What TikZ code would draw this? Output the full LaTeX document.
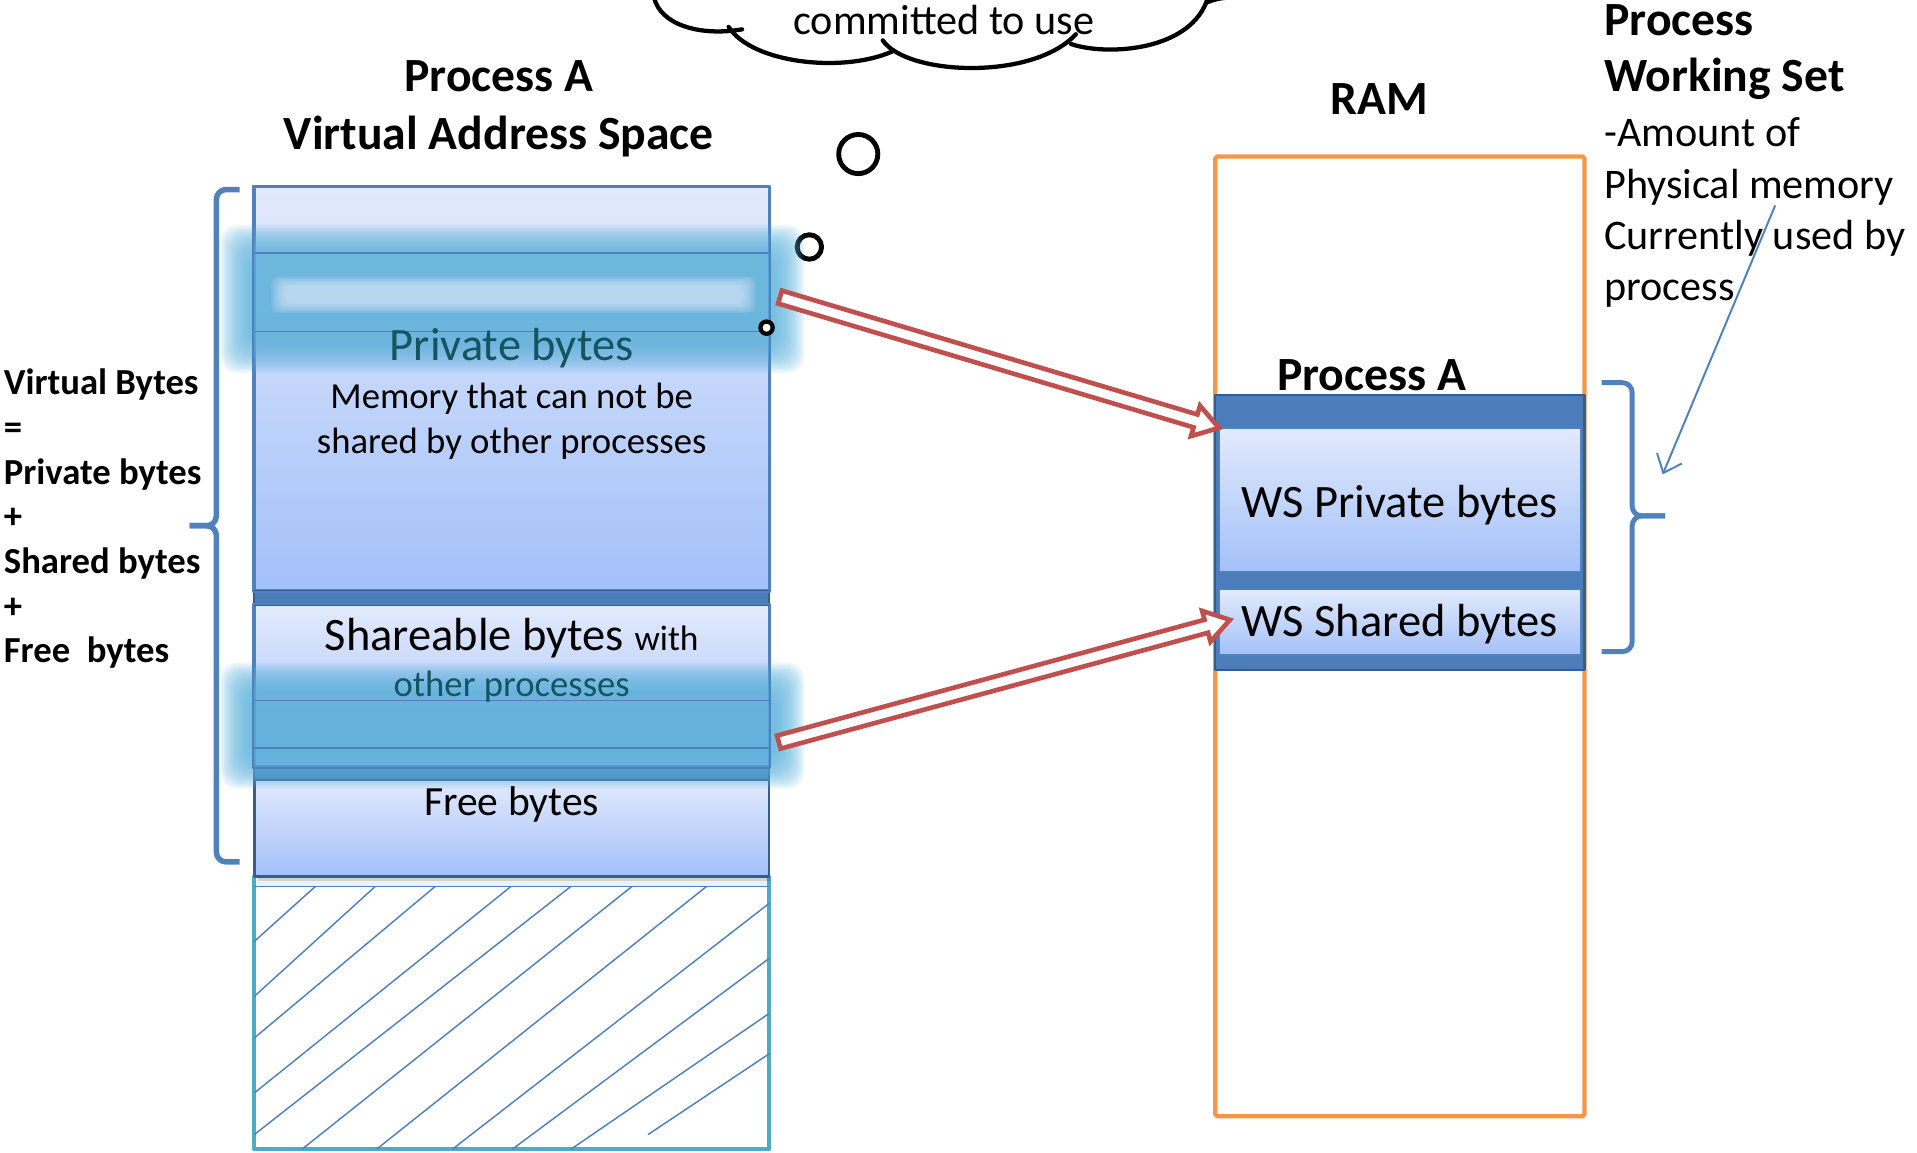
\documentclass[tikz,border=0pt]{standalone}
\usepackage{fontspec}
\setmainfont{Carlito}
\usetikzlibrary{arrows.meta,calc}
\definecolor{boxblue}{RGB}{79,129,189}
\definecolor{bandblue}{RGB}{74,125,186}
\definecolor{banddark}{RGB}{56,93,138}
\definecolor{gradtop}{RGB}{226,234,252}
\definecolor{gradbot}{RGB}{163,192,249}
\definecolor{glowc}{RGB}{92,178,220}
\definecolor{tealtxt}{RGB}{23,84,98}
\definecolor{ramorange}{RGB}{247,150,70}
\definecolor{arrowred}{RGB}{192,80,77}
\definecolor{hatchteal}{RGB}{75,172,198}
\tikzset{
  seg/.style={draw=boxblue, line width=2pt, top color=gradtop, bottom color=gradbot, inner sep=0pt, rectangle},
  band/.style={draw=banddark, line width=1.5pt, fill=bandblue, inner sep=0pt, rectangle},
  thinline/.style={draw=boxblue, line width=1.3pt},
  hatchline/.style={draw=boxblue, line width=1.2pt},
  bracestyle/.style={draw=boxblue, line width=4.5pt, rounded corners=8pt},
  redarrow/.style={draw=arrowred, fill=white, line width=3.8pt, line join=miter},
  bubble/.style={draw=black, fill=white, circle, inner sep=0pt},
  bigbold/.style={font=\fontsize{39}{47}\selectfont\bfseries, inner sep=0pt, anchor=base},
  sidebold/.style={font=\fontsize{30}{36}\selectfont\bfseries, inner sep=0pt, anchor=base west},
  sidenorm/.style={font=\fontsize{34.5}{41}\selectfont, inner sep=0pt, anchor=base west},
  bodytxt/.style={font=\fontsize{30}{36}\selectfont, inner sep=0pt, anchor=base},
  boxtxt/.style={font=\fontsize{38}{46}\selectfont, inner sep=0pt, anchor=base},
}
\newcommand\hollowarrow[2]{%
  \coordinate (ha-n) at ($(#2)!20pt!(#1)$);
  \draw[redarrow] ($(#1)!5.5pt!90:(#2)$) -- ($(ha-n)!5.5pt!-90:(#1)$) -- ($(ha-n)!13pt!-90:(#1)$) -- (#2)
     -- ($(ha-n)!13pt!90:(#1)$) -- ($(ha-n)!5.5pt!90:(#1)$) -- ($(#1)!5.5pt!-90:(#2)$) -- cycle;
}
\begin{document}
\begin{tikzpicture}[x=1pt,y=-1pt,line join=round]
\useasboundingbox (0,0) rectangle (1568,943);

% ---------- cloud (thought bubble) ----------
\draw[black, line width=3.5pt, line cap=round]
  (535,-2) .. controls (540,20) and (572,30) .. (607,24);
\draw[black, line width=3.5pt, line cap=round]
  (596,22) .. controls (615,52) and (690,60) .. (730,42);
\draw[black, line width=3.5pt, line cap=round]
  (722,33) .. controls (742,62) and (845,66) .. (880,28);
\draw[black, line width=3.5pt, line cap=round]
  (876,36) .. controls (905,46) and (975,42) .. (988,-2);
\draw[black, line width=3.5pt, line cap=round]
  (987,2) .. controls (995,-1) .. (1012,-3);
\node[font=\fontsize{34.5}{41}\selectfont, inner sep=0pt, anchor=base] (cloudtxt) at (772,28) {committed to use};
\node[bubble, line width=4pt, minimum size=32pt] (bub1) at (702,126) {};
\node[bubble, line width=4pt, minimum size=20pt] (bub2) at (662,202) {};

% ---------- titles ----------
\node[bigbold] (titleA) at (408,75) {Process A};
\node[bigbold] (titleVAS) at (408,122) {Virtual Address Space};
\node[bigbold] (titleRAM) at (1128,94) {RAM};

% ---------- hatched (unused) region ----------
\node[draw=hatchteal, line width=3pt, minimum width=421pt, minimum height=223pt, inner sep=0pt] (hatch) at (418.5,828.5) {};
\fill[gray!12] (209.5,717) rectangle (627.5,725);
\draw[thinline] (208,725) -- (629,725);
\draw[hatchline] (258,725) -- (208,770);
\draw[hatchline] (307,725) -- (208,815);
\draw[hatchline] (356,725) -- (208,849);
\draw[hatchline] (418,725) -- (208,894);
\draw[hatchline] (467,725) -- (208,928);
\draw[hatchline] (517,725) -- (247,940);
\draw[hatchline] (578,725) -- (308,940);
\draw[hatchline] (629,739) -- (370,940);
\draw[hatchline] (629,784) -- (419,940);
\draw[hatchline] (629,829) -- (467,940);
\draw[hatchline] (629,862) -- (530,928);

% ---------- virtual address space segments ----------
\node[seg, minimum width=421pt, minimum height=330pt] (priv) at (418.5,318) {};
\node[seg, minimum width=421pt, minimum height=132pt] (share) at (418.5,561) {};
\node[band, minimum width=421pt, minimum height=12pt] (band1) at (418.5,489) {};
\node[band, minimum width=421pt, minimum height=11pt] (band2) at (418.5,632.5) {};
\fill[black, opacity=0.12] (211,717) rectangle (630,721);
\node[seg, draw=banddark, minimum width=421pt, minimum height=79pt] (free) at (418.5,677.5) {};

% glow on private part
\foreach \gi in {0,...,15}{
  \fill[glowc, opacity=0.1, rounded corners=14pt] ({180+\gi*1.6},{184+\gi*1.6}) rectangle ({658-\gi*1.6},{305-\gi*1.6});
}
\foreach \gi in {0,...,7}{
  \fill[gradtop, opacity=0.13, rounded corners=6pt] ({222+\gi*1.6},{226+\gi*1.2}) rectangle ({618-\gi*1.6},{256-\gi*1.2});
}
% glow on shared part
\foreach \gi in {0,...,15}{
  \fill[glowc, opacity=0.11, rounded corners=14pt] ({180+\gi*1.6},{542+\gi*1.6}) rectangle ({658-\gi*1.6},{645-\gi*1.6});
}
\draw[boxblue, line width=2pt] (priv.north west) rectangle (priv.south east);
\draw[boxblue, line width=2pt] (share.north west) rectangle (share.south east);
\draw[thinline] (208,207) -- (629,207);
\draw[thinline] (208,271) -- (629,271);
\draw[thinline] (208,573) -- (629,573);
\draw[thinline] (208,612) -- (629,612);
\node[bubble, line width=3.5pt, minimum size=10pt] (bub3) at (627,268) {};

% texts in VAS
\node[boxtxt, text=tealtxt] (privtxt) at (418.5,295) {Private bytes};
\node[bodytxt] (mem1) at (418.5,334) {Memory that can not be};
\node[bodytxt] (mem2) at (418.5,371) {shared by other processes};
\node[boxtxt] (sharetxt) at (418.5,532) {Shareable bytes {\fontsize{29}{35}\selectfont with}};
\node[bodytxt, text=tealtxt] (othertxt) at (418.5,570) {other processes};
\node[font=\fontsize{34}{41}\selectfont, inner sep=0pt, anchor=base] (freetxt) at (418.5,667) {Free bytes};

% ---------- left brace and formula ----------
\draw[bracestyle] (196,155) -- (177,155) -- (177,430) -- (155,430);
\draw[bracestyle] (155,430) -- (177,430) -- (177,705) -- (196,705);
\node[sidebold] (vb1) at (3,323) {Virtual Bytes};
\node[sidebold] (vb2) at (3,359.5) {=};
\node[sidebold] (vb3) at (3,396) {Private bytes};
\node[sidebold] (vb4) at (3,432.5) {+};
\node[sidebold] (vb5) at (3,469) {Shared bytes};
\node[sidebold] (vb6) at (3,505.5) {+};
\node[sidebold] (vb7) at (3,542) {Free\ \ bytes};

% ---------- RAM ----------
\node[draw=ramorange, line width=3.5pt, rounded corners=1.5pt, minimum width=302pt, minimum height=785pt, inner sep=0pt] (ram) at (1145,520.5) {};
\node[bigbold] (ramA) at (1122,319) {Process A};
\node[band, draw=banddark, line width=2pt, minimum width=302pt, minimum height=225pt] (wsblock) at (1145,435.5) {};
\node[seg, line width=1.5pt, minimum width=296pt, minimum height=118pt] (wspriv) at (1145,409) {};
\node[seg, line width=1.5pt, minimum width=296pt, minimum height=54pt] (wsshared) at (1145,509) {};
\node[boxtxt] (wsprivtxt) at (1145,423) {WS Private bytes};
\node[boxtxt] (wssharedtxt) at (1145,521) {WS Shared bytes};

% right brace
\draw[bracestyle, line width=4pt] (1310,313) -- (1335,313) -- (1335,422) -- (1362,422);
\draw[bracestyle, line width=4pt] (1362,422) -- (1335,422) -- (1335,533) -- (1310,533);

% ---------- working set description ----------
\node[bigbold, anchor=base west] (pws1) at (1312,29) {Process};
\node[bigbold, anchor=base west] (pws2) at (1312,75) {Working Set};
\node[sidenorm] (pws3) at (1312,120) {-Amount of};
\node[sidenorm] (pws4) at (1312,162) {Physical memory};
\node[sidenorm] (pws5) at (1312,204) {Currently used by};
\node[sidenorm] (pws6) at (1312,246) {process};
\coordinate (ptrS) at (1452,168);
\coordinate (ptrE) at (1360,388);
\draw[boxblue, line width=1.6pt, -{Straight Barb[length=13pt,width=22pt,line width=1.6pt]}] (ptrS) -- (ptrE);

% ---------- mapping arrows ----------
\coordinate (a1s) at (638,243);
\coordinate (a1e) at (997,350);
\coordinate (a2s) at (637,607);
\coordinate (a2e) at (1006,507);
\hollowarrow{a1s}{a1e}
\hollowarrow{a2s}{a2e}
\end{tikzpicture}
\end{document}
